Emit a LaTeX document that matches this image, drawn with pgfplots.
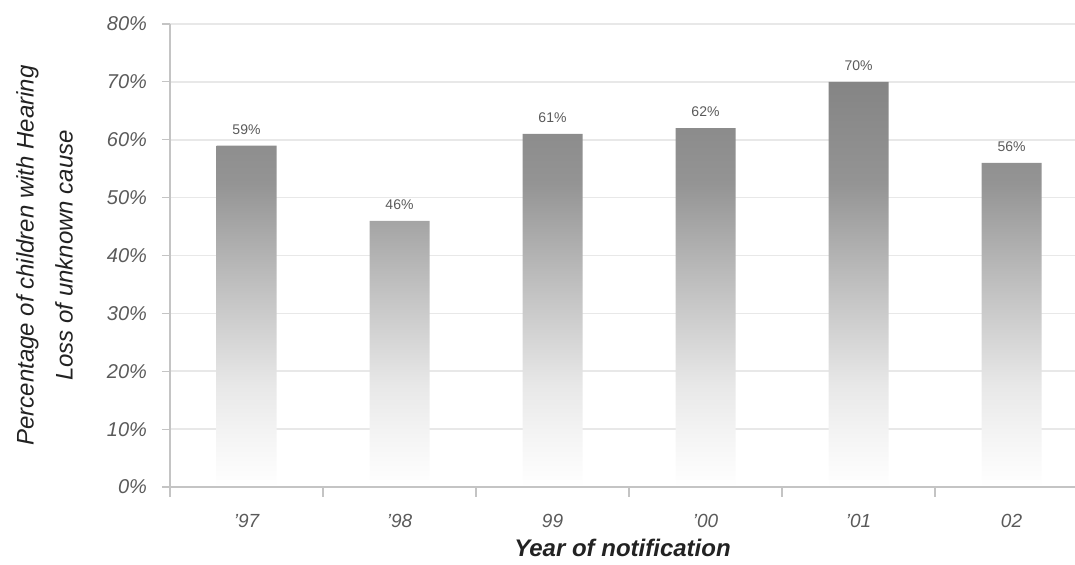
\documentclass[border=0pt]{standalone}
\usepackage{pgfplots}
\pgfplotsset{compat=1.18}
\usepackage{fontspec}
\setmainfont{Liberation Sans}

\definecolor{gridc}{HTML}{E8E8E8}
\definecolor{axisc}{HTML}{C4C4C4}
\definecolor{tickc}{HTML}{5A5A5A}
\definecolor{labelc}{HTML}{222222}

% grey-to-white fade; the bar itself spans 25bp (base) to 75bp (top)
\pgfdeclareverticalshading{barfade}{100bp}{
  color(0bp)=(white);
  color(25bp)=(white);
  color(31bp)=(black!4);
  color(37.5bp)=(black!9);
  color(50bp)=(black!25);
  color(62.5bp)=(black!42);
  color(75bp)=(black!48);
  color(100bp)=(black!48)}

\begin{document}
\begin{tikzpicture}
\begin{axis}[
  at={(0,0)}, anchor=south west,
  scale only axis,
  width=452.5pt, height=231.5pt,
  xmin=-0.5, xmax=5.415,
  ymin=0, ymax=80,
  axis x line*=bottom, axis y line*=left,
  axis line style={axisc, line width=0.7pt},
  tick align=outside,
  major tick length=4pt,
  minor tick length=5pt,
  ytick={0,10,...,80},
  yticklabels={0\%,10\%,20\%,30\%,40\%,50\%,60\%,70\%,80\%},
  y tick style={axisc, line width=0.6pt},
  ymajorgrids,
  grid style={gridc, line width=0.8pt},
  xtick={0,1,2,3,4,5},
  xticklabels={'97,'98,99,'00,'01,02},
  major x tick style={draw=none},
  minor xtick={-0.5,0.5,1.5,2.5,3.5,4.5},
  minor x tick style={axisc, line width=0.6pt},
  yticklabel style={font=\itshape\fontsize{10}{12}\selectfont, text=tickc, anchor=east, xshift=-4pt},
  xticklabel style={font=\itshape\fontsize{9.5}{11}\selectfont, text=tickc, anchor=center, yshift=-13pt},
  xlabel={Year of notification},
  xlabel style={font=\bfseries\itshape\fontsize{12}{14}\selectfont, text=labelc,
    at={([yshift=-30.5pt]axis description cs:0.5,0)}, anchor=center},
  ylabel={Percentage of children with Hearing\\Loss of unknown cause},
  ylabel style={font=\itshape\fontsize{12}{19.5}\selectfont, text=labelc, align=center,
    at={([xshift=-62.75pt]axis description cs:0,0.5)}, anchor=center},
  /pgf/number format/assume math mode=true,
  clip=false,
]
% shaded bars, each fading from grey at the top to white at the base
\addplot[ybar, bar width=30pt, bar shift=0pt, draw=none, shading=barfade]
  coordinates {(0,59) (1,46) (2,61) (3,62) (4,70) (5,56)};
% value labels above the bars
\addplot[ybar, bar width=30pt, bar shift=0pt, draw=none, fill=none,
  nodes near coords={\pgfmathprintnumber{\pgfplotspointmeta}\%},
  nodes near coords style={font=\fontsize{7}{8}\selectfont, text=tickc, anchor=south, yshift=2pt}]
  coordinates {(0,59) (1,46) (2,61) (3,62) (4,70) (5,56)};
% base line redrawn over the faded feet of the bars
\draw[axisc, line width=0.7pt] (axis cs:-0.5,0) -- (axis cs:5.415,0);
\end{axis}
\pgfresetboundingbox
\useasboundingbox (-85pt,-39pt) rectangle (452.5pt,243.5pt);
\end{tikzpicture}
\end{document}
